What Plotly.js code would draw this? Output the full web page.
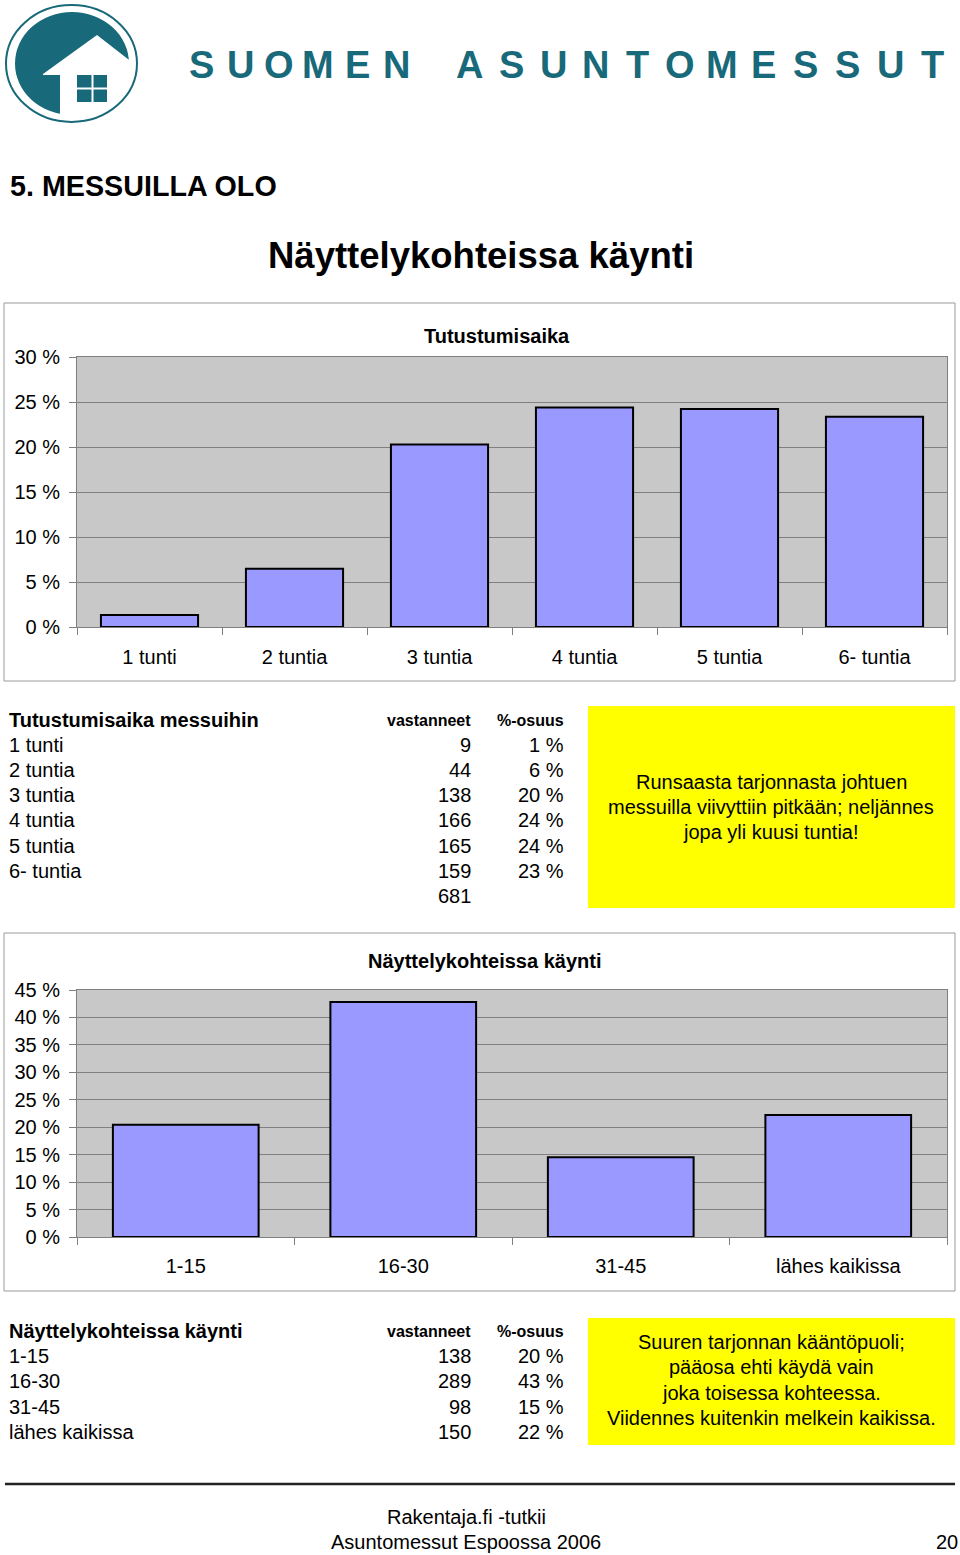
<!DOCTYPE html>
<html>
<head>
<meta charset="utf-8">
<script src="https://cdn.plot.ly/plotly-3.0.1.min.js"></script>
<style>
html,body{margin:0;padding:0;background:#fff;}
#page{width:960px;height:1555px;}
</style>
</head>
<body>
<div id="page"></div>
<script>
// ---------- DATA ----------
const pageHeading = "5. MESSUILLA OLO";
const pageTitle = "Näyttelykohteissa käynti";
const brandWords = ["SUOMEN", "ASUNTOMESSUT"];

const chart1Title = "Tutustumisaika";
const table1Title = "Tutustumisaika messuihin";
const cats1 = ["1 tunti", "2 tuntia", "3 tuntia", "4 tuntia", "5 tuntia", "6- tuntia"];
const counts1 = [9, 44, 138, 166, 165, 159];
const yTicks1 = [0, 5, 10, 15, 20, 25, 30];
const note1 = ["Runsaasta tarjonnasta johtuen", "messuilla viivyttiin pitkään; neljännes", "jopa yli kuusi tuntia!"];

const chart2Title = "Näyttelykohteissa käynti";
const table2Title = "Näyttelykohteissa käynti";
const cats2 = ["1-15", "16-30", "31-45", "lähes kaikissa"];
const counts2 = [138, 289, 98, 150];
const yTicks2 = [0, 5, 10, 15, 20, 25, 30, 35, 40, 45];
const note2 = ["Suuren tarjonnan kääntöpuoli;", "pääosa ehti käydä vain", "joka toisessa kohteessa.", "Viidennes kuitenkin melkein kaikissa."];

const colHeads = ["vastanneet", "%-osuus"];
const footerLines = ["Rakentaja.fi -tutkii", "Asuntomessut Espoossa 2006"];
const pageNumber = "20";

// ---------- derived ----------
const sum = a => a.reduce((s, v) => s + v, 0);
const total1 = sum(counts1), total2 = sum(counts2);
const pct1 = counts1.map(v => v / total1 * 100);
const pct2 = counts2.map(v => v / total2 * 100);
const pctLabel = v => v + " %";

// ---------- layout helpers ----------
const W = 960, H = 1555;
const FONT = "Liberation Sans, Arial, Helvetica, sans-serif";
const TEAL = "#186979";
const px = x => x / W;
const py = y => 1 - y / H;
const ann = [];
const shapes = [];
function txt(text, x, y, size, opt) {
  opt = opt || {};
  const anchor = opt.anchor || "left";
  const dx = anchor === "left" ? -2 : (anchor === "right" ? 2 : 0);
  ann.push({
    xref: "paper", yref: "paper", x: px(x + dx), y: py(y), text: text, showarrow: false,
    xanchor: anchor, yanchor: "middle",
    font: {family: opt.family || FONT, size: size, color: opt.color || "#000", weight: opt.bold ? 700 : 400}
  });
}
function rect(x0, y0, x1, y1, fill, line, lw) {
  shapes.push({type: "rect", xref: "paper", yref: "paper", x0: px(x0), x1: px(x1), y0: py(y1), y1: py(y0),
    fillcolor: fill || "rgba(0,0,0,0)", line: {color: line || "rgba(0,0,0,0)", width: lw || 0}, layer: "above"});
}
function ellipse(x0, y0, x1, y1, fill, line, lw) {
  shapes.push({type: "circle", xref: "paper", yref: "paper", x0: px(x0), x1: px(x1), y0: py(y1), y1: py(y0),
    fillcolor: fill || "rgba(0,0,0,0)", line: {color: line || "rgba(0,0,0,0)", width: lw || 0}, layer: "above"});
}
function poly(pts, fill) {
  const d = pts.map((p, i) => (i ? "L" : "M") + px(p[0]) + "," + py(p[1])).join(" ") + " Z";
  shapes.push({type: "path", xref: "paper", yref: "paper", path: d, fillcolor: fill, line: {width: 0}, layer: "above"});
}

// ---------- logo ----------
ellipse(15, 12, 129, 115, TEAL);
poly([[43, 74], [97, 35], [142, 70], [142, 126], [60, 126], [60, 75], [43, 75]], "#fff");
rect(77, 75, 91.5, 87.5, TEAL);
rect(93.5, 75, 107, 87.5, TEAL);
rect(77, 89.5, 91.5, 102, TEAL);
rect(93.5, 89.5, 107, 102, TEAL);
ellipse(6, 5, 137, 122, null, TEAL, 2);

// brand text, letter-spaced
function spaced(word, firstCenter, step) {
  word.split("").forEach((ch, i) => txt(ch, firstCenter + i * step, 65, 38, {anchor: "center", bold: true, color: TEAL}));
}
spaced(brandWords[0], 201, 39);
spaced(brandWords[1], 469, 42.1);

// headings
txt(pageHeading, 10, 186, 28.7, {bold: true});
txt(pageTitle, 481, 256, 36.5, {bold: true, anchor: "center"});

// chart frames
rect(4, 303, 955, 681, null, "#9a9a9a", 1);
rect(4, 933, 955, 1291, null, "#9a9a9a", 1);
txt(chart1Title, 497, 336, 20, {bold: true, anchor: "center"});
txt(chart2Title, 484, 961, 20, {bold: true, anchor: "center"});

// tables
function table(title, cats, counts, pcts, y0, step, showTotal) {
  txt(title, 9, y0, 20, {bold: true});
  txt(colHeads[0], 471, y0, 16, {bold: true, anchor: "right"});
  txt(colHeads[1], 564, y0, 16, {bold: true, anchor: "right"});
  cats.forEach((c, i) => {
    const y = y0 + (i + 1) * step;
    txt(c, 9, y, 20);
    txt(String(counts[i]), 471, y, 20, {anchor: "right"});
    txt(pctLabel(Math.round(pcts[i])), 564, y, 20, {anchor: "right"});
  });
  if (showTotal) txt(String(sum(counts)), 471, y0 + (cats.length + 1) * step, 20, {anchor: "right"});
}
table(table1Title, cats1, counts1, pct1, 720, 25.1, true);
table(table2Title, cats2, counts2, pct2, 1331, 25.2, false);

// yellow notes
rect(588, 706, 955, 908, "#ffff00");
note1.forEach((l, i) => txt(l, 771, 782 + i * 25, 20, {anchor: "center"}));
rect(588, 1318, 955, 1445, "#ffff00");
note2.forEach((l, i) => txt(l, 771, 1342 + i * 25.3, 20, {anchor: "center"}));

// footer
shapes.push({type: "line", xref: "paper", yref: "paper", x0: px(5), x1: px(955), y0: py(1484), y1: py(1484),
  line: {color: "#222", width: 2.5}, layer: "above"});
txt(footerLines[0], 466, 1517, 20, {anchor: "center"});
txt(footerLines[1], 466, 1542, 20, {anchor: "center"});
txt(pageNumber, 958, 1542, 20, {anchor: "right"});

// ---------- charts ----------
const barStyle = {color: "#9999ff", line: {color: "#000", width: 2}};
const traces = [
  {type: "bar", x: cats1, y: pct1, xaxis: "x", yaxis: "y", marker: barStyle, hoverinfo: "none"},
  {type: "bar", x: cats2, y: pct2, xaxis: "x2", yaxis: "y2", marker: barStyle, hoverinfo: "none"}
];
const xBase = {
  type: "category", showgrid: false, zeroline: false, showline: true, mirror: true, linecolor: "#808080", linewidth: 1,
  ticks: "outside", tickson: "boundaries", ticklen: 7, tickcolor: "#808080", tickwidth: 1,
  tickfont: {family: FONT, size: 20, color: "#000"}, ticklabelstandoff: 12, fixedrange: true
};
const yBase = {
  showgrid: true, gridcolor: "#808080", gridwidth: 1, zeroline: false, showline: true, mirror: true,
  linecolor: "#808080", linewidth: 1, ticks: "outside", ticklen: 7, tickcolor: "#808080", tickwidth: 1,
  tickmode: "array", tickfont: {family: FONT, size: 20, color: "#000"}, ticklabelstandoff: 5, fixedrange: true
};
const layout = {
  width: W, height: H, margin: {l: 0, r: 0, t: 0, b: 0}, paper_bgcolor: "#fff", plot_bgcolor: "#c8c8c8",
  showlegend: false, bargap: 0.33, font: {family: FONT},
  xaxis: Object.assign({}, xBase, {domain: [px(77), px(947)], anchor: "y"}),
  yaxis: Object.assign({}, yBase, {domain: [py(627), py(357)], anchor: "x", range: [0, 30],
    tickvals: yTicks1, ticktext: yTicks1.map(pctLabel)}),
  xaxis2: Object.assign({}, xBase, {domain: [px(77), px(947)], anchor: "y2", ticklabelstandoff: 11}),
  yaxis2: Object.assign({}, yBase, {domain: [py(1237), py(990)], anchor: "x2", range: [0, 45],
    tickvals: yTicks2, ticktext: yTicks2.map(pctLabel)}),
  annotations: ann, shapes: shapes
};
Plotly.newPlot("page", traces, layout, {staticPlot: true, displayModeBar: false});
</script>
</body>
</html>
